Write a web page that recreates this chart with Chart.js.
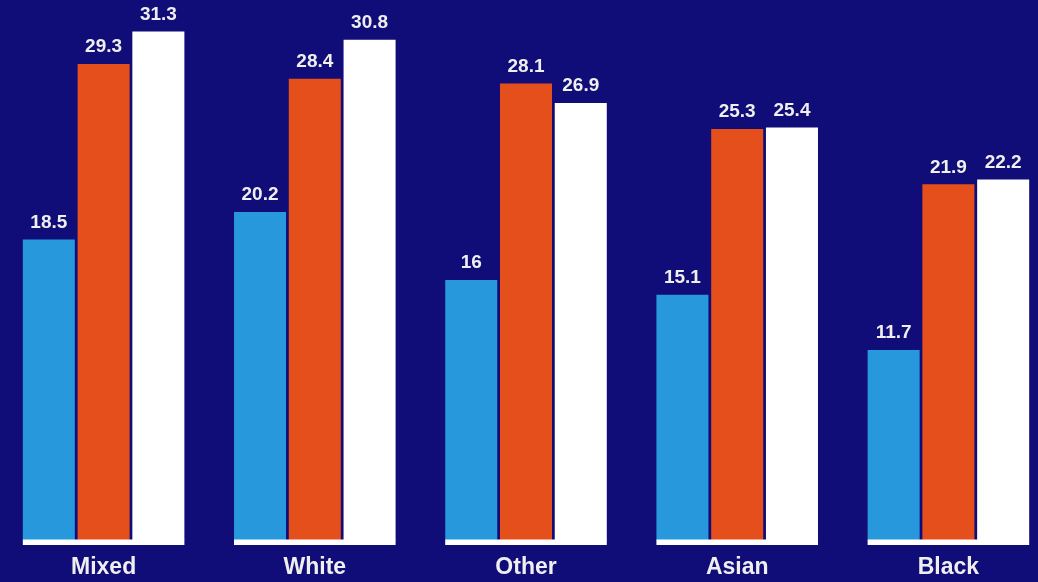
<!DOCTYPE html>
<html>
<head>
<meta charset="utf-8">
<script src="https://cdn.jsdelivr.net/npm/chart.js@4/dist/chart.umd.min.js"></script>
<style>
  html, body { margin: 0; padding: 0; background: #100c78; overflow: hidden; }
  #wrap { position: absolute; left: -2px; top: 0; width: 1056px; height: 582px; }
</style>
</head>
<body>
<div id="wrap"><canvas id="chart"></canvas></div>
<script>
const categories = ['Mixed', 'White', 'Other', 'Asian', 'Black'];
const firstSeries = [18.5, 20.2, 16, 15.1, 11.7];
const secondSeries = [29.3, 28.4, 28.1, 25.3, 21.9];
const thirdSeries = [31.3, 30.8, 26.9, 25.4, 22.2];

const textColor = '#efefef';
const fontFamily = '"Liberation Sans", Arial, Helvetica, sans-serif';

// white strip under each group, category names below it, values over the bars
const groupBase = {
    id: 'groupBase',
    afterDatasetsDraw(chart) {
        const ctx = chart.ctx;
        const xScale = chart.scales.x;
        const first = chart.getDatasetMeta(0).data;
        const last = chart.getDatasetMeta(chart.data.datasets.length - 1).data;
        const bottom = chart.chartArea.bottom;
        ctx.save();
        ctx.fillStyle = '#ffffff';
        first.forEach((bar, i) => {
            const left = bar.x - bar.width / 2;
            const right = last[i].x + last[i].width / 2;
            ctx.fillRect(left, bottom - 0.5, right - left, 5.5);
        });

        ctx.fillStyle = textColor;
        ctx.textAlign = 'center';
        ctx.textBaseline = 'middle';

        ctx.font = 'bold 23px ' + fontFamily;
        chart.data.labels.forEach((name, i) => {
            ctx.fillText(name, xScale.getPixelForValue(i), bottom + 28);
        });

        ctx.font = 'bold 19px ' + fontFamily;
        chart.data.datasets.forEach((ds, d) => {
            chart.getDatasetMeta(d).data.forEach((bar, i) => {
                ctx.fillText(String(ds.data[i]), bar.x, bar.y - 17);
            });
        });
        ctx.restore();
    }
};

new Chart(document.getElementById('chart'), {
    type: 'bar',
    data: {
        labels: categories,
        datasets: [
            { data: firstSeries, backgroundColor: '#2698db' },
            { data: secondSeries, backgroundColor: '#e54f1c' },
            { data: thirdSeries, backgroundColor: '#ffffff' },
        ],
    },
    options: {
        responsive: true,
        maintainAspectRatio: false,
        animation: false,
        events: [],
        layout: { padding: { top: 4, bottom: 42, left: 0, right: 0 } },
        datasets: {
            bar: { categoryPercentage: 0.778, barPercentage: 0.95 },
        },
        plugins: {
            legend: { display: false },
            tooltip: { enabled: false },
        },
        scales: {
            x: { display: false },
            y: { display: false, min: 0, max: 33 },
        },
    },
    plugins: [groupBase],
});
</script>
</body>
</html>
